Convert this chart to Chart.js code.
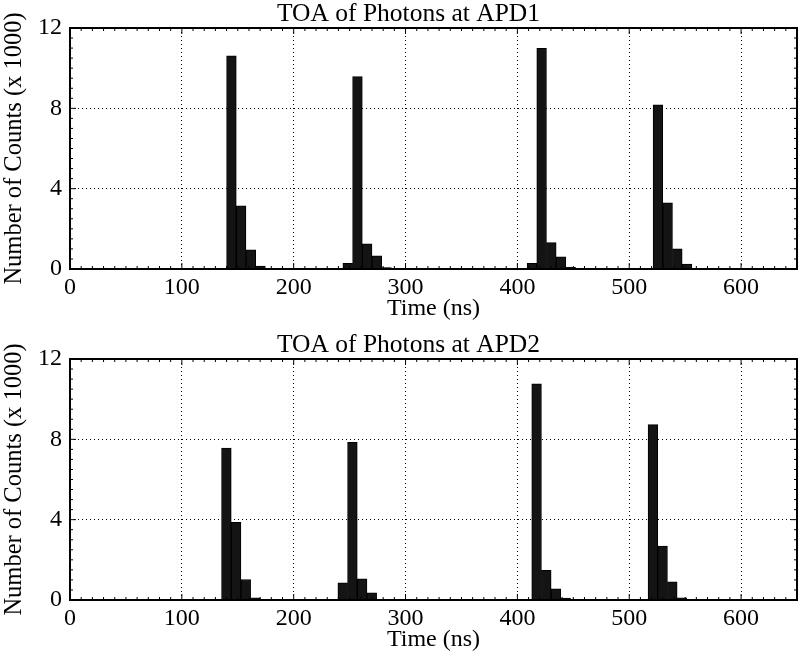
<!DOCTYPE html>
<html>
<head>
<meta charset="utf-8">
<script src="https://cdn.jsdelivr.net/npm/chart.js@4"></script>
<style>
  html, body { margin: 0; padding: 0; background: #fff; overflow: hidden; }
  .box { position: absolute; left: 0; width: 799px; height: 330px; }
</style>
</head>
<body>
<div class="box" style="top:0"><canvas id="apd1" width="799" height="330"></canvas></div>
<div class="box" style="top:331px"><canvas id="apd2" width="799" height="330"></canvas></div>
<script>
// bin centres (ns) and counts (x 1000)
const apd1Time = [144.33, 153.0, 161.67, 170.33, 179.0,
  248.33, 257.0, 265.67, 274.33, 283.0,
  413.0, 421.67, 430.33, 439.0, 447.67,
  525.67, 534.33, 543.0, 551.67, 560.33];
const apd1Counts = [10.62, 3.14, 0.95, 0.15, 0.03,
  0.28, 9.58, 1.25, 0.66, 0.07,
  0.28, 10.99, 1.31, 0.61, 0.08,
  8.17, 3.30, 1.0, 0.25, 0.03];

const apd2Time = [139.83, 148.5, 157.17, 165.83, 200.5, 209.17,
  243.83, 252.5, 261.17, 269.83, 278.5,
  417.17, 425.83, 434.5, 443.17, 460.5, 469.17,
  521.17, 529.83, 538.5, 547.17, 564.5, 573.17];
const apd2Counts = [7.57, 3.87, 1.02, 0.11, 0.02, 0.02,
  0.86, 7.85, 1.05, 0.36, 0.03,
  10.76, 1.48, 0.56, 0.1, 0.02, 0.02,
  8.73, 2.68, 0.90, 0.11, 0.02, 0.02];

const xTicks = [0, 100, 200, 300, 400, 500, 600];
const yTicks = [0, 4, 8, 12];

Chart.defaults.font.family = "'Liberation Serif', 'Times New Roman', serif";
Chart.defaults.font.size = 24;
Chart.defaults.color = "#000";

// box round the plot with small inward ticks, like the original
const frame = {
  id: "frame",
  afterDraw(chart) {
    const { ctx, chartArea: a, scales } = chart;
    ctx.save();
    ctx.strokeStyle = "#000";
    ctx.lineWidth = 1;
    ctx.beginPath();
    for (let v = 0; v <= 650; v += 10) {
      const px = scales.x.getPixelForValue(v);
      const len = v % 100 === 0 ? 6 : 3;
      ctx.moveTo(px, a.bottom); ctx.lineTo(px, a.bottom - len);
      ctx.moveTo(px, a.top); ctx.lineTo(px, a.top + len);
    }
    for (let v = 0; v <= 12; v += 0.5) {
      const py = scales.y.getPixelForValue(v);
      const len = v % 4 === 0 ? 6 : 3;
      ctx.moveTo(a.left, py); ctx.lineTo(a.left + len, py);
      ctx.moveTo(a.right, py); ctx.lineTo(a.right - len, py);
    }
    ctx.stroke();
    ctx.lineWidth = 2;
    ctx.strokeRect(a.left, a.top, a.right - a.left, a.bottom - a.top);
    ctx.restore();
  }
};

function makeChart(id, title, times, counts) {
  new Chart(document.getElementById(id), {
    type: "bar",
    data: {
      datasets: [{
        data: times.map((t, i) => ({ x: t, y: counts[i] })),
        backgroundColor: "#141414",
        borderColor: "#000",
        borderWidth: 1,
        categoryPercentage: 1,
        barPercentage: 1,
      }],
    },
    options: {
      responsive: false,
      animation: false,
      // left padding pushes the title centre right; y axis box narrowed to match
      layout: { padding: { left: 20, right: 2, top: 0, bottom: 0 } },
      plugins: {
        legend: { display: false },
        tooltip: { enabled: false },
        title: {
          display: true,
          text: title,
          font: { size: 25.5, weight: "normal", lineHeight: 28 / 25.5 },
          padding: { top: 0, bottom: 0 },
        },
      },
      scales: {
        x: {
          type: "linear",
          min: 0,
          max: 650,
          offset: false,
          afterFit: (s) => { s.height = 61; },
          afterBuildTicks: (s) => { s.ticks = xTicks.map((v) => ({ value: v })); },
          ticks: { padding: 7, font: { lineHeight: 1 } },
          grid: { color: "#000", drawTicks: false, offset: false },
          border: { display: false, dash: [1, 3] },
          title: {
            display: true,
            text: "Time (ns)",
            font: { size: 24, lineHeight: 1 },
            padding: { top: 0, bottom: 9 },
          },
        },
        y: {
          min: 0,
          max: 12,
          afterFit: (s) => { s.width = 50; },
          afterBuildTicks: (s) => { s.ticks = yTicks.map((v) => ({ value: v })); },
          ticks: { padding: 8 },
          grid: { color: "#000", drawTicks: false },
          border: { display: false, dash: [1, 3] },
          title: {
            display: true,
            text: "Number of Counts (x 1000)",
            font: { size: 24.5, lineHeight: 1 },
            padding: { top: -18, bottom: 0 },
          },
        },
      },
    },
    plugins: [frame],
  });
}

makeChart("apd1", "TOA of Photons at APD1", apd1Time, apd1Counts);
makeChart("apd2", "TOA of Photons at APD2", apd2Time, apd2Counts);
</script>
</body>
</html>
